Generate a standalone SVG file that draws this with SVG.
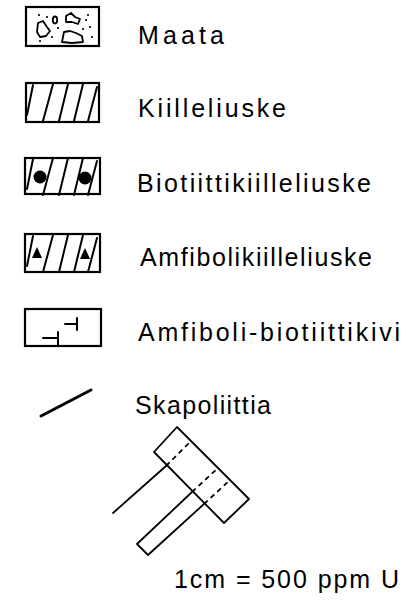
<svg xmlns="http://www.w3.org/2000/svg" width="407" height="602" viewBox="0 0 407 602">
  <defs>
    <style>
      .box { fill: none; stroke: #000; stroke-width: 2.2; }
      .hatch { fill: none; stroke: #000; stroke-width: 2; stroke-linecap: round; }
      .pebble { fill: none; stroke: #000; stroke-width: 1.8; stroke-linejoin: round; }
      .dot { fill: #000; }
      .ln { fill: none; stroke: #000; stroke-width: 1.8; stroke-linecap: round; stroke-linejoin: round; }
      .dash { fill: none; stroke: #000; stroke-width: 1.8; stroke-dasharray: 5 4; }
      .lbl { font-family: "Liberation Sans", "DejaVu Sans", sans-serif; font-size: 25px; fill: #000; }
    </style>
    <!-- slanted schist hatching inside a 75x38 box -->
    <g id="hatching">
      <line class="hatch" x1="2" y1="32" x2="8" y2="2"/>
      <line class="hatch" x1="18" y1="38" x2="28" y2="1"/>
      <line class="hatch" x1="34" y1="38" x2="43" y2="1"/>
      <line class="hatch" x1="49" y1="38" x2="58" y2="1"/>
      <line class="hatch" x1="63" y1="38" x2="72" y2="4"/>
    </g>
  </defs>

  <rect width="407" height="602" fill="#fff"/>

  <!-- soil -->
  <g id="maata">
    <rect class="box" x="26" y="7" width="73" height="39"/>
    <ellipse class="pebble" cx="55" cy="20" rx="2.2" ry="3.5"/>
    <path class="pebble" d="M66,16 L71,13 L75,17 L80,19 L78,24 L72,22 L66,22 Z"/>
    <path class="pebble" d="M38,23 L43,21 L47,27 L50,31 L46,36 L40,37 L37,32 Z"/>
    <path class="pebble" d="M64,32 L70,31 L76,33 L82,36 L83,42 L72,43 L62,42 Z"/>
    <circle class="dot" cx="39" cy="15" r="1.1"/>
    <circle class="dot" cx="47" cy="17" r="1.1"/>
    <circle class="dot" cx="88" cy="15" r="1.1"/>
    <circle class="dot" cx="86" cy="20" r="1.1"/>
    <circle class="dot" cx="58" cy="28" r="1.1"/>
    <circle class="dot" cx="83" cy="29" r="1.1"/>
    <circle class="dot" cx="90" cy="27" r="1.1"/>
    <circle class="dot" cx="52" cy="37" r="1.1"/>
    <circle class="dot" cx="40" cy="41" r="1.1"/>
    <circle class="dot" cx="92" cy="37" r="1.1"/>
    <text class="lbl" x="138" y="44" textLength="86" lengthAdjust="spacing">Maata</text>
  </g>

  <!-- mica schist -->
  <g id="kiilleliuske">
    <rect class="box" x="26" y="83" width="73" height="39"/>
    <use href="#hatching" x="25" y="83"/>
    <text class="lbl" x="138" y="117" textLength="148" lengthAdjust="spacing">Kiilleliuske</text>
  </g>

  <!-- biotite mica schist -->
  <g id="biotiittikiilleliuske">
    <rect class="box" x="25" y="158" width="75" height="36"/>
    <use href="#hatching" x="25" y="157"/>
    <circle class="dot" cx="40" cy="177" r="6.5"/>
    <circle class="dot" cx="85" cy="178" r="6.5"/>
    <text class="lbl" x="137" y="192" textLength="234" lengthAdjust="spacing">Biotiittikiilleliuske</text>
  </g>

  <!-- amphibole mica schist -->
  <g id="amfibolikiilleliuske">
    <rect class="box" x="25" y="234" width="75" height="38"/>
    <use href="#hatching" x="25" y="234"/>
    <polygon class="dot" points="37,247 42,258 32,258"/>
    <polygon class="dot" points="85,248 90,259 80,259"/>
    <text class="lbl" x="140" y="266" textLength="232" lengthAdjust="spacing">Amfibolikiilleliuske</text>
  </g>

  <!-- amphibole biotite rock -->
  <g id="amfiboli-biotiittikivi">
    <rect class="box" x="25" y="309" width="76" height="37"/>
    <path class="hatch" d="M65,324 H77 M77,318 V330"/>
    <path class="hatch" d="M43,338 H58 M58,332 V345"/>
    <text class="lbl" x="138" y="341" textLength="262" lengthAdjust="spacing">Amfiboli-biotiittikivi</text>
  </g>

  <!-- scapolite -->
  <g id="skapoliittia">
    <line x1="41" y1="416" x2="91" y2="390" stroke="#000" stroke-width="3" stroke-linecap="round"/>
    <text class="lbl" x="135" y="414" textLength="136" lengthAdjust="spacing">Skapoliittia</text>
  </g>

  <!-- scale symbol -->
  <g id="asteikko">
    <polygon class="ln" points="177,427 249,499 224,523 154,452"/>
    <text class="lbl" x="174" y="588" textLength="225" lengthAdjust="spacing">1cm = 500 ppm U</text>
  </g>

  <g id="connectors">
    <line class="ln" x1="166" y1="466" x2="113" y2="513"/>
    <polyline class="ln" points="192,492 137,544 148,555 204,504"/>
    <line class="dash" x1="166" y1="466" x2="190" y2="442"/>
    <line class="dash" x1="192" y1="492" x2="218" y2="468"/>
    <line class="dash" x1="204" y1="504" x2="230" y2="480"/>
  </g>
</svg>
